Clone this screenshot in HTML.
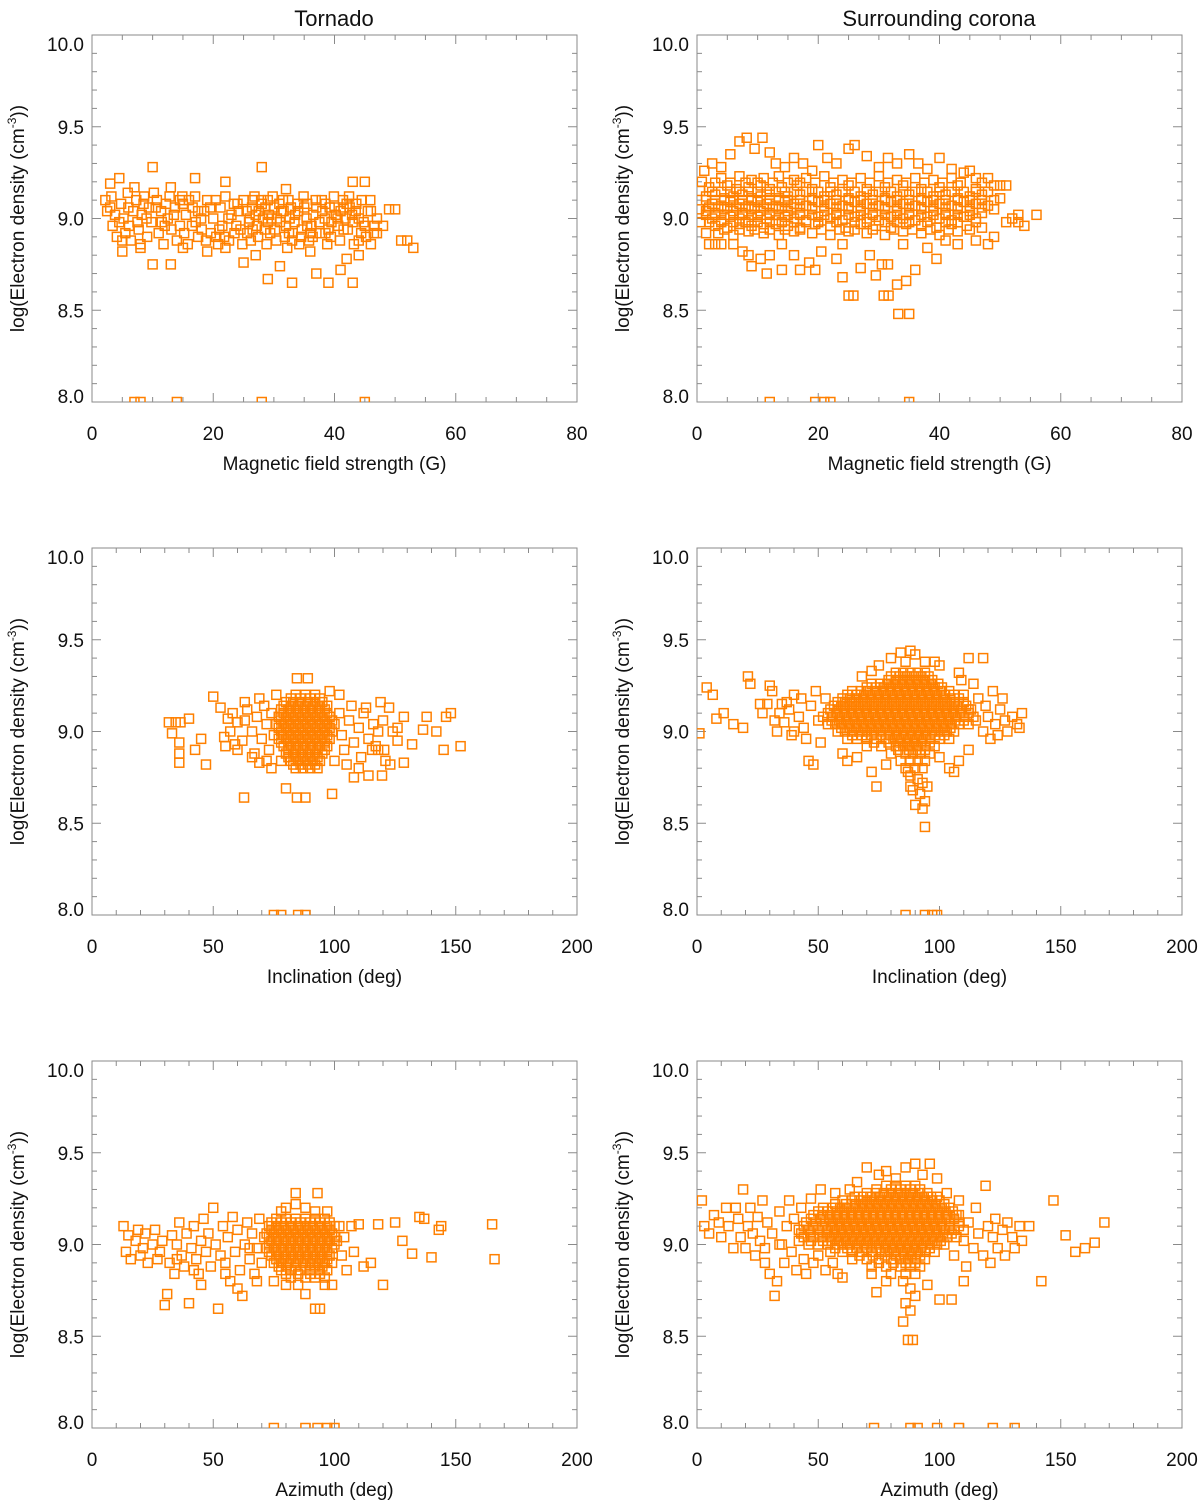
<!DOCTYPE html>
<html><head><meta charset="utf-8">
<style>
html,body{margin:0;padding:0;background:#fff;}
svg{display:block;font-family:"Liberation Sans",Arial,sans-serif;}
</style></head>
<body>
<svg id="fig" width="1200" height="1504" viewBox="0 0 1200 1504">
<text x="334" y="26" font-size="22" text-anchor="middle" fill="#111">Tornado</text>
<text x="939" y="26" font-size="22" text-anchor="middle" fill="#111">Surrounding corona</text>
</svg>
<script>
const yTicks=[8.0,8.5,9.0,9.5,10.0];
const yTickLabels=["8.0","8.5","9.0","9.5","10.0"];
const xTicksB=[0,20,40,60,80];
const xTicksA=[0,50,100,150,200];
const xTitles=["Magnetic field strength (G)","Inclination (deg)","Azimuth (deg)"];

const tornadoB=[[2.5,9.04],[2.2,9.1],[3.4,8.96],[3.8,9.02],[3.2,9.12],[4.1,8.9],[5.2,9.0],[4.8,9.08],[5.5,8.92],[5.9,9.14],[6.4,8.88],[6.8,9.04],[7.3,9.1],[6.1,8.96],[8.2,9.02],[7.7,8.94],[8.6,9.12],[8.0,8.86],[9.4,9.06],[9.8,8.98],[10.2,9.14],[9.1,8.9],[11.0,8.92],[11.4,9.04],[10.7,9.1],[11.8,8.86],[12.5,9.0],[12.2,9.08],[13.1,8.94],[12.8,9.12],[14.0,8.88],[14.5,8.96],[13.7,9.06],[14.9,9.12],[15.5,9.02],[15.2,8.92],[16.0,9.1],[15.8,8.86],[17.1,8.98],[16.6,9.06],[17.5,8.9],[17.0,9.12],[18.5,9.04],[18.1,8.94],[19.0,9.1],[18.8,8.88],[20.0,9.0],[20.4,9.1],[19.6,8.92],[20.8,8.86],[21.5,8.96],[21.2,9.06],[22.0,9.12],[21.8,8.9],[23.0,9.02],[22.6,8.88],[23.4,9.08],[23.8,8.96],[24.5,8.94],[24.2,9.04],[25.0,9.1],[24.8,8.86],[26.0,9.0],[25.6,8.92],[26.4,9.06],[25.9,8.98],[26.8,9.12],[26.2,8.88],[27.5,9.04],[27.2,8.96],[27.9,9.1],[27.4,8.9],[28.2,9.0],[29.0,8.98],[28.6,9.06],[29.4,8.92],[29.2,9.02],[28.8,8.86],[29.8,9.12],[30.5,9.0],[30.2,8.94],[30.9,9.08],[30.4,8.88],[31.2,9.04],[32.0,8.96],[31.6,9.04],[32.4,9.1],[31.8,8.9],[32.6,9.0],[32.2,8.84],[33.5,9.02],[33.1,8.92],[33.9,9.08],[33.4,8.98],[34.2,8.86],[35.0,9.06],[34.6,8.94],[35.4,9.0],[34.9,9.12],[35.8,8.88],[36.5,9.02],[36.2,8.96],[36.9,9.1],[36.4,8.9],[38.0,9.04],[37.6,8.92],[38.4,9.0],[37.9,9.1],[38.8,8.86],[39.5,8.98],[39.2,9.06],[39.9,9.12],[39.4,8.9],[40.2,9.02],[41.0,9.04],[40.6,8.96],[41.4,9.1],[40.9,8.88],[41.8,9.0],[42.5,9.06],[42.2,8.94],[42.9,9.02],[42.4,9.12],[43.2,8.86],[44.0,9.0],[43.6,9.08],[44.4,8.92],[44.8,8.98],[45.5,9.04],[45.2,8.9],[45.9,9.1],[47.0,9.0],[46.6,8.96],
[3,9.06],[4.5,8.98],[6,9.06],[7.5,8.98],[9,9.0],[10.5,9.06],[12,8.96],[13.5,9.02],[15,9.08],[16.5,8.96],[18,9.0],[19.5,9.06],[21,8.94],[22.5,9.0],[24,9.08],[25.5,9.04],[26.5,8.94],[27,9.02],[28,9.08],[28.5,8.94],[29.6,9.0],[30,9.06],[31,8.98],[31.5,9.1],[32.8,9.06],[33,8.88],[34,9.04],[34.5,8.9],[35.5,9.08],[36,8.92],[37,9.06],[37.5,8.98],[38.5,9.08],[39,8.94],[40,9.06],[40.5,9.0],[41.5,8.94],[42,9.08],[43,8.98],[43.5,9.04],[44.5,9.1],[45,8.96],[46,9.04],[46.5,8.92],[5,8.88],[8.5,9.08],[11.5,8.98],[14.5,9.1],[17.5,9.04],[20.5,8.9],[23.5,8.92],[26.5,9.1],[29,9.1],[32.5,8.92],[35.5,8.96],[38.5,8.92],[41.5,9.06],[44,8.88],
[10,9.28],[28,9.28],[4.5,9.22],[17,9.22],[3,9.19],[22,9.2],[7,9.17],[13,9.17],[32,9.16],[43,9.2],[45,9.2],[10,8.75],[13,8.75],[29,8.67],[33,8.65],[37,8.7],[39,8.65],[43,8.65],[41,8.72],[42,8.78],[31,8.74],[27,8.8],[25,8.76],[36,8.82],[19,8.82],[5,8.82],[8,8.84],[15,8.84],[22,8.84],[49,9.05],[50,9.05],[51,8.88],[52,8.88],[53,8.84],[47,8.92],[48,8.96],[46,8.86],[44,8.8],
[7,8.0],[8,8.0],[14,8.0],[28,8.0],[45,8.0]];

const coronaB=[[4,9.22],[7,9.23],[9,9.21],[11,9.22],[13.5,9.23],[16,9.21],[18,9.22],[21,9.23],[24,9.21],[27,9.22],[30,9.23],[33,9.21],[36,9.22],[39,9.21],[42,9.22],
[2,9.17],[5,9.18],[6.5,9.16],[8.5,9.17],[10.5,9.18],[12,9.16],[14,9.17],[16.5,9.18],[19,9.16],[22,9.17],[25,9.18],[28,9.16],[31,9.17],[34,9.18],[37,9.16],[40,9.17],[43,9.18],[46,9.16],[49,9.18],[51,9.18],
[1.5,9.12],[3,9.13],[4.5,9.11],[6,9.12],[7.5,9.13],[9,9.11],[10.5,9.12],[12,9.13],[13.5,9.11],[15,9.12],[17,9.13],[19,9.11],[21,9.12],[23,9.13],[25,9.11],[27,9.12],[29,9.13],[31,9.11],[33,9.12],[35,9.13],[37,9.11],[39,9.12],[41,9.13],[43,9.11],[45,9.12],[47,9.13],[50,9.11],
[2.5,9.08],[4,9.07],[5.5,9.09],[7,9.08],[8.5,9.07],[10,9.09],[11.5,9.08],[13,9.07],[14.5,9.09],[16,9.08],[18,9.07],[20,9.09],[22,9.08],[24,9.07],[26,9.09],[28,9.08],[30,9.07],[32,9.09],[34,9.08],[36,9.07],[38,9.09],[40,9.08],[42,9.07],[44,9.09],[46,9.08],[48,9.07],
[1.5,9.04],[3,9.03],[4.5,9.05],[6,9.04],[7.5,9.03],[9,9.05],[10.5,9.04],[12,9.03],[13.5,9.05],[15,9.04],[17,9.03],[19,9.05],[21,9.04],[23,9.03],[25,9.05],[27,9.04],[29,9.03],[31,9.05],[33,9.04],[35,9.03],[37,9.05],[39,9.04],[41,9.03],[43,9.05],[45,9.04],[47,9.03],[49,9.05],
[2.5,9.0],[4,8.99],[5.5,9.01],[7,9.0],[8.5,8.99],[10,9.01],[11.5,9.0],[13,8.99],[14.5,9.01],[16,9.0],[18,8.99],[20,9.01],[22,9.0],[24,8.99],[26,9.01],[28,9.0],[30,8.99],[32,9.01],[34,9.0],[36,8.99],[38,9.01],[40,9.0],[42,8.99],[44,9.01],[46,9.0],
[3,8.96],[5,8.95],[7,8.97],[9,8.96],[11,8.95],[13,8.97],[15,8.96],[17,8.95],[19.5,8.97],[22,8.96],[24.5,8.95],[27,8.97],[29.5,8.96],[32,8.95],[34.5,8.97],[37,8.96],[39.5,8.95],[42,8.97],[44.5,8.96],[47,8.95],
[3.5,8.92],[6,8.91],[8.5,8.93],[11,8.92],[13.5,8.91],[16,8.93],[19,8.92],[22,8.91],[25,8.93],[28,8.92],[31,8.91],[34,8.93],[37,8.92],[40,8.91],[43,8.93],
[0.5,9.15],[0.8,9.2],[1.2,9.26],[2.5,9.3],[4,9.28],[5.5,9.35],[7,9.42],[8.2,9.44],[9.5,9.38],[10.8,9.44],[12,9.36],[13,9.3],[14.5,9.28],[16,9.33],[17.5,9.3],[19,9.26],[20,9.4],[21.5,9.33],[23,9.3],[25,9.38],[26,9.4],[28,9.34],[30,9.28],[31.5,9.33],[33,9.3],[35,9.35],[36.5,9.3],[38,9.27],[40,9.33],[42,9.27],[44,9.25],[46,9.22],[48,9.22],[50,9.18],[45,9.26],
[0.3,9.05],[0.6,8.98],[1.5,8.92],[2,8.86],[3,8.86],[4,8.86],[6,8.86],[7.5,8.82],[8.5,8.8],[9,8.74],[10.5,8.78],[12,8.8],[11.5,8.7],[14,8.72],[16,8.8],[17,8.72],[18.5,8.76],[19.5,8.72],[20.5,8.82],[23,8.78],[24,8.68],[25,8.58],[25.8,8.58],[27,8.73],[28.5,8.8],[29.5,8.69],[30.5,8.75],[31.5,8.75],[30.8,8.58],[31.6,8.58],[33,8.64],[34.5,8.66],[33.2,8.48],[35,8.48],[36,8.72],[38,8.84],[39.5,8.78],[41,8.88],[43,8.86],[46,8.88],[48,8.86],[49,8.9],[51,8.98],[52,9.0],[53,8.98],[54,8.96],[56,9.02],[53,9.02],[14,8.86],[24,8.86],[34,8.86],
[12,8.0],[19.5,8.0],[21,8.0],[22,8.0],[35,8.0]];
// extra dense-core rows: [y, x1, x2, ...]
const coronaBRows=[[9.195,3,5.5,8,10,12.5,15,17,19.5,22.5,25.5,28.5,31.5,34.5,37.5,40.5,43.5,47],
[9.145,2.5,4,5.5,7,8.5,10,11.5,13,14.5,16,18,20,22,24,26,28,30,32,34,36,38,40,42,44,46,48],
[9.10,1.5,3,4.5,6,7.5,9,10.5,12,13.5,15,17,19,21,23,25,27,29,31,33,35,37,39,41,43,45,47,49],
[9.06,2,3.5,5,6.5,8,9.5,11,12.5,14,15.5,17,19,21,23,25,27,29,31,33,35,37,39,41,43,45,47],
[9.02,1.5,3,4.5,6,7.5,9,10.5,12,13.5,15,17,19,21,23,25,27,29,31,33,35,37,39,41,43,45],
[8.98,2,4,6,8,10,12,14,16,18,20,23,26,28,31,33,35,38,41,43,46],
[8.94,4.5,7,9.5,12,14.5,17,20.5,23.5,26,29,32.5,35.5,38.5,41.5,45]];

const tornadoI=[[84,9.2],[88,9.2],[92,9.2],
[80,9.16],[83,9.16],[86,9.16],[89,9.16],[92,9.16],[95,9.16],
[78,9.12],[81,9.12],[84,9.12],[87,9.12],[90,9.12],[93,9.12],[96,9.12],
[77,9.08],[80,9.08],[83,9.08],[86,9.08],[89,9.08],[92,9.08],[95,9.08],[98,9.08],
[76,9.04],[79,9.04],[82,9.04],[85,9.04],[88,9.04],[91,9.04],[94,9.04],[97,9.04],[100,9.04],
[78,9.0],[81,9.0],[84,9.0],[87,9.0],[90,9.0],[93,9.0],[96,9.0],[99,9.0],
[77,8.96],[80,8.96],[83,8.96],[86,8.96],[89,8.96],[92,8.96],[95,8.96],[98,8.96],
[79,8.92],[82,8.92],[85,8.92],[88,8.92],[91,8.92],[94,8.92],[97,8.92],
[80,8.88],[83,8.88],[86,8.88],[89,8.88],[92,8.88],[95,8.88],
[82,8.84],[85,8.84],[88,8.84],[91,8.84],[94,8.84],
[84,8.8],[87,8.8],[90,8.8],[93,8.8],
[58,9.1],[60,9.05],[62,8.95],[64,9.12],[66,9.0],[67,8.88],[68,9.08],[70,8.96],[71,9.14],[72,9.04],[73,8.9],[74,9.1],[75,8.98],[72,8.84],[66,8.86],[60,8.9],[57,9.0],[63,9.06],[69,9.18],[76,9.2],[78,8.84],[74,8.8],[102,9.1],[103,8.98],[104,8.9],[106,9.06],[107,9.14],[108,8.94],[110,9.02],[111,8.86],[112,9.1],[114,8.96],[116,9.04],[117,8.92],[118,9.0],[120,9.06],[121,8.84],[124,9.0],[126,9.02],[110,8.8],[100,8.84],[102,9.2],[98,9.22],[105,8.82],
[31.7,9.05],[33,8.99],[34.5,9.05],[36.5,9.05],[36,8.94],[36,8.88],[36,8.83],[40,9.07],[45,8.96],[42.5,8.9],[47,8.82],[50,9.19],[53,9.13],[56,9.07],[54.5,8.97],[55,8.92],[59,8.93],[62.7,8.64],[63,9.16],[69,8.83],[80,8.69],[84.5,8.64],[88,8.64],[84.5,9.29],[89,9.29],[99,8.66],[113,9.13],[119,9.16],[122.5,9.13],[128.6,9.08],[138,9.08],[146,9.08],[145,8.9],[136.5,9.01],[142,9.0],[128.6,8.83],[132,8.93],[123,8.82],[119.6,8.76],[114,8.76],[108,8.75],[115.5,8.9],[118,8.9],[120.5,8.9],[126,8.95],[152,8.92],[148,9.1],
[75,8.0],[78,8.0],[85,8.0],[88,8.0]];
const tornadoIRows=[[9.18,82,86,90,94],[9.14,79,82,85,88,91,94,97],[9.1,79,82,85,88,91,94,97],[9.06,78,81,84,87,90,93,96,99],[9.02,77,80,83,86,89,92,95,98],[8.98,79,82,85,88,91,94,97],[8.94,78,81,84,87,90,93,96],[8.9,81,84,87,90,93,96],[8.86,81,84,87,90,93],[8.82,83,86,89,92]];

const coronaI=[[82,9.32],[85,9.32],[88,9.32],[91,9.32],[94,9.32],
[79,9.28],[82,9.28],[85,9.28],[88,9.28],[91,9.28],[94,9.28],[97,9.28],
[70,9.24],[74,9.24],[77,9.24],[80,9.24],[83,9.24],[86,9.24],[89,9.24],[92,9.24],[95,9.24],[98,9.24],[101,9.24],
[62,9.2],[66,9.2],[69,9.2],[72,9.2],[75,9.2],[78,9.2],[81,9.2],[84,9.2],[87,9.2],[90,9.2],[93,9.2],[96,9.2],[99,9.2],[102,9.2],[106,9.2],
[58,9.16],[61,9.16],[64,9.16],[67,9.16],[70,9.16],[73,9.16],[76,9.16],[79,9.16],[82,9.16],[85,9.16],[88,9.16],[91,9.16],[94,9.16],[97,9.16],[100,9.16],[103,9.16],[106,9.16],[110,9.16],
[55,9.12],[58,9.12],[61,9.12],[64,9.12],[67,9.12],[70,9.12],[73,9.12],[76,9.12],[79,9.12],[82,9.12],[85,9.12],[88,9.12],[91,9.12],[94,9.12],[97,9.12],[100,9.12],[103,9.12],[106,9.12],[109,9.12],[112,9.12],
[52,9.08],[56,9.08],[59,9.08],[62,9.08],[65,9.08],[68,9.08],[71,9.08],[74,9.08],[77,9.08],[80,9.08],[83,9.08],[86,9.08],[89,9.08],[92,9.08],[95,9.08],[98,9.08],[101,9.08],[104,9.08],[107,9.08],[110,9.08],[114,9.08],
[54,9.04],[57,9.04],[60,9.04],[63,9.04],[66,9.04],[69,9.04],[72,9.04],[75,9.04],[78,9.04],[81,9.04],[84,9.04],[87,9.04],[90,9.04],[93,9.04],[96,9.04],[99,9.04],[102,9.04],[105,9.04],[108,9.04],[112,9.04],
[58,9.0],[61,9.0],[64,9.0],[67,9.0],[70,9.0],[73,9.0],[76,9.0],[79,9.0],[82,9.0],[85,9.0],[88,9.0],[91,9.0],[94,9.0],[97,9.0],[100,9.0],[103,9.0],[106,9.0],
[62,8.96],[66,8.96],[70,8.96],[74,8.96],[78,8.96],[81,8.96],[84,8.96],[87,8.96],[90,8.96],[93,8.96],[96,8.96],[100,8.96],[104,8.96],
[70,8.92],[76,8.92],[82,8.92],[85,8.92],[88,8.92],[91,8.92],[94,8.92],[98,8.92],
[80,8.88],[86,8.88],[89,8.88],[92,8.88],[96,8.88],
[84,8.84],[88,8.84],[91,8.84],[94,8.84],
[86,8.8],[90,8.8],[93,8.8],
[88,8.76],[91,8.74],[93,8.72],[89,8.68],[92,8.66],[94,8.62],[90,8.6],[93,8.58],[94,8.48],[88,8.7],[95,8.7],[87,8.78],
[80,9.4],[84,9.43],[88,9.44],[90,9.42],[94,9.38],[86,9.38],[98,9.38],[100,9.36],[108,9.32],[112,9.4],[75,9.36],[72,9.33],[68,9.3],
[1,8.99],[4,9.24],[6.5,9.2],[8,9.07],[11,9.1],[15,9.04],[19,9.02],[21,9.3],[22,9.26],[26,9.15],[27,9.1],[29,9.15],[30,9.25],[31,9.22],[32,9.06],[34,9.1],[35,9.15],[36,9.05],[38,9.12],[39,8.98],[40,9.2],[42,9.08],[43,9.18],[44,9.02],[45,8.96],[46,8.84],[48,8.82],[47,9.14],[49,9.22],[50,9.06],[51,8.94],[53,9.18],[40,9.0],[37,9.16],[33,9.0],
[60,8.88],[62,8.84],[66,8.86],[72,8.78],[74,8.7],[78,8.82],[100,8.86],[104,8.8],[106,8.78],[108,8.84],[112,8.9],
[110,9.2],[113,9.12],[115,9.06],[116,9.18],[118,9.0],[119,9.14],[120,9.08],[121,8.96],[122,9.22],[123,9.04],[124,8.98],[125,9.12],[126,9.18],[127,9.06],[128,9.0],[130,9.08],[132,9.04],[134,9.1],[133,9.02],[118,9.4],[114,9.26],[109,9.28],
[86,8.0],[94,8.0],[97,8.0],[99,8.0]];
const coronaIRows=[[9.30,80,83.5,86.5,89.5,92.5,95.5],[9.26,72,75.5,78.5,81.5,84.5,87.5,90.5,93.5,96.5,99.5],[9.22,64,67.5,70.5,73.5,76.5,79.5,82.5,85.5,88.5,91.5,94.5,97.5,100.5,104],[9.18,60,63,65.5,68.5,71.5,74.5,77.5,80.5,83.5,86.5,89.5,92.5,95.5,98.5,101.5,104.5,108],[9.14,56.5,59.5,62.5,65.5,68.5,71.5,74.5,77.5,80.5,83.5,86.5,89.5,92.5,95.5,98.5,101.5,104.5,107.5,111],[9.10,54,57.5,60.5,63.5,66.5,69.5,72.5,75.5,78.5,81.5,84.5,87.5,90.5,93.5,96.5,99.5,102.5,105.5,108.5,112],[9.06,55.5,58.5,61.5,64.5,67.5,70.5,73.5,76.5,79.5,82.5,85.5,88.5,91.5,94.5,97.5,100.5,103.5,106.5,110],[9.02,59.5,62.5,65.5,68.5,71.5,74.5,77.5,80.5,83.5,86.5,89.5,92.5,95.5,98.5,101.5,104.5],[8.98,64,68,72,76,79.5,82.5,85.5,88.5,91.5,94.5,98,102],[8.94,73,79,83.5,86.5,89.5,92.5,96],[8.9,83,87.5,90.5,94]];

const tornadoA=[[76,9.14],[80,9.14],[84,9.14],[88,9.14],[92,9.14],[96,9.14],
[73,9.1],[76,9.1],[79,9.1],[82,9.1],[85,9.1],[88,9.1],[91,9.1],[94,9.1],[97,9.1],[100,9.1],
[72,9.06],[75,9.06],[78,9.06],[81,9.06],[84,9.06],[87,9.06],[90,9.06],[93,9.06],[96,9.06],[99,9.06],
[74,9.02],[77,9.02],[80,9.02],[83,9.02],[86,9.02],[89,9.02],[92,9.02],[95,9.02],[98,9.02],[101,9.02],
[72,8.98],[75,8.98],[78,8.98],[81,8.98],[84,8.98],[87,8.98],[90,8.98],[93,8.98],[96,8.98],[99,8.98],
[74,8.94],[77,8.94],[80,8.94],[83,8.94],[86,8.94],[89,8.94],[92,8.94],[95,8.94],[98,8.94],
[75,8.9],[78,8.9],[81,8.9],[84,8.9],[87,8.9],[90,8.9],[93,8.9],[96,8.9],[99,8.9],
[78,8.86],[82,8.86],[86,8.86],[90,8.86],[94,8.86],[97,8.86],
[82,8.82],[88,8.82],[92,8.82],[96,8.82],
[80,9.2],[84,9.22],[88,9.2],[92,9.18],[84,9.28],[93,9.28],[78,9.18],[97,9.18],
[85,8.78],[88,8.73],[92,8.65],[94,8.65],[96,8.78],[99,8.78],[80,8.78],[75,8.8],
[13,9.1],[15,9.05],[14,8.96],[16,8.92],[18,9.02],[19,9.08],[21,8.98],[22,9.06],[23,8.9],[25,9.0],[26,9.08],[28,8.96],[29,9.02],[30,8.67],[31,8.73],[32,8.9],[33,9.05],[34,8.84],[35,9.0],[36,9.12],[37,8.94],[38,8.88],[39,9.06],[40,8.68],[41,8.98],[42,9.1],[43,8.92],[44,8.84],[45,9.02],[46,9.14],[47,8.96],[48,9.06],[49,8.88],[50,9.2],[51,9.0],[52,8.65],[53,8.94],[54,9.1],[55,8.9],[56,9.04],[57,8.8],[58,9.15],[59,8.96],[60,9.08],[61,8.86],[62,8.72],[63,9.0],[64,9.12],[65,8.92],[66,9.06],[67,8.84],[68,8.98],[69,9.14],[70,8.9],[71,9.04],[45,8.78],[55,8.84],[60,8.76],[20,8.94],[27,8.92],[35,8.92],[65,8.98],[68,8.8],[42,8.86],
[102,9.1],[103,8.94],[104,9.04],[105,8.86],[107,9.1],[108,8.96],[110,9.11],[112,8.88],[115,8.9],[118,9.11],[120,8.78],[125,9.12],[128,9.02],[132,8.95],[135,9.15],[137,9.14],[140,8.93],[143,9.08],[144,9.1],[165,9.11],[166,8.92],
[75,8.0],[88,8.0],[93,8.0],[97,8.0],[100,8.0]];
const tornadoARows=[[9.12,74,78,82,86,90,94,98],[9.08,74,77,80,83,86,89,92,95,98],[9.04,73,76,79,82,85,88,91,94,97,100],[9.0,73,76,79,82,85,88,91,94,97,100],[8.96,73,76,79,82,85,88,91,94,97],[8.92,76,79,82,85,88,91,94,97],[8.88,77,80,84,88,92,95],[8.84,80,85,90,94]];

const coronaA=[[78,9.32],[82,9.32],[86,9.32],[90,9.32],
[70,9.28],[74,9.28],[77,9.28],[80,9.28],[83,9.28],[86,9.28],[89,9.28],[92,9.28],[95,9.28],
[60,9.24],[64,9.24],[67,9.24],[70,9.24],[73,9.24],[76,9.24],[79,9.24],[82,9.24],[85,9.24],[88,9.24],[91,9.24],[94,9.24],[97,9.24],[100,9.24],
[52,9.2],[56,9.2],[59,9.2],[62,9.2],[65,9.2],[68,9.2],[71,9.2],[74,9.2],[77,9.2],[80,9.2],[83,9.2],[86,9.2],[89,9.2],[92,9.2],[95,9.2],[98,9.2],[101,9.2],[104,9.2],
[48,9.16],[52,9.16],[55,9.16],[58,9.16],[61,9.16],[64,9.16],[67,9.16],[70,9.16],[73,9.16],[76,9.16],[79,9.16],[82,9.16],[85,9.16],[88,9.16],[91,9.16],[94,9.16],[97,9.16],[100,9.16],[103,9.16],[107,9.16],
[45,9.12],[49,9.12],[53,9.12],[56,9.12],[59,9.12],[62,9.12],[65,9.12],[68,9.12],[71,9.12],[74,9.12],[77,9.12],[80,9.12],[83,9.12],[86,9.12],[89,9.12],[92,9.12],[95,9.12],[98,9.12],[101,9.12],[104,9.12],[108,9.12],
[42,9.08],[46,9.08],[50,9.08],[54,9.08],[57,9.08],[60,9.08],[63,9.08],[66,9.08],[69,9.08],[72,9.08],[75,9.08],[78,9.08],[81,9.08],[84,9.08],[87,9.08],[90,9.08],[93,9.08],[96,9.08],[99,9.08],[102,9.08],[106,9.08],[110,9.08],
[44,9.04],[48,9.04],[52,9.04],[55,9.04],[58,9.04],[61,9.04],[64,9.04],[67,9.04],[70,9.04],[73,9.04],[76,9.04],[79,9.04],[82,9.04],[85,9.04],[88,9.04],[91,9.04],[94,9.04],[97,9.04],[100,9.04],[103,9.04],[107,9.04],
[50,9.0],[54,9.0],[57,9.0],[60,9.0],[63,9.0],[66,9.0],[69,9.0],[72,9.0],[75,9.0],[78,9.0],[81,9.0],[84,9.0],[87,9.0],[90,9.0],[93,9.0],[96,9.0],[99,9.0],[102,9.0],
[55,8.96],[60,8.96],[64,8.96],[68,8.96],[72,8.96],[76,8.96],[79,8.96],[82,8.96],[85,8.96],[88,8.96],[91,8.96],[94,8.96],[98,8.96],
[64,8.92],[70,8.92],[75,8.92],[80,8.92],[84,8.92],[87,8.92],[90,8.92],[94,8.92],
[72,8.88],[78,8.88],[84,8.88],[88,8.88],[92,8.88],
[80,8.84],[86,8.84],[90,8.84],
[85,8.8],[88,8.76],[90,8.72],[86,8.68],[88,8.64],[85,8.58],[87,8.48],[89,8.48],[78,8.8],[95,8.78],[100,8.7],[74,8.74],[72,8.84],
[70,9.42],[75,9.38],[78,9.4],[82,9.36],[86,9.42],[90,9.44],[93,9.38],[96,9.44],[99,9.36],[103,9.28],[66,9.34],[63,9.3],[108,9.24],[57,9.28],
[2,9.24],[3,9.1],[5,9.06],[7,9.16],[9,9.12],[10,9.04],[12,9.2],[13,9.1],[15,8.98],[17,9.14],[18,9.04],[19,9.3],[20,8.98],[21,9.1],[22,9.2],[23,9.06],[24,8.94],[25,9.15],[26,9.02],[27,9.24],[28,8.9],[29,9.12],[30,8.84],[31,9.06],[32,8.72],[33,8.8],[34,9.18],[35,9.0],[36,8.9],[37,9.1],[38,9.24],[39,8.96],[40,9.14],[41,8.86],[42,9.02],[43,9.2],[44,8.92],[45,8.84],[47,9.25],[48,8.9],[50,8.94],[51,9.3],[53,8.86],[56,8.9],[58,8.84],[60,8.82],[28,8.98],[16,9.2],[34,9.0],[46,9.0],
[104,9.08],[106,8.94],[108,9.16],[110,9.02],[111,8.88],[112,9.12],[114,8.98],[115,9.2],[116,9.06],[118,8.94],[119,9.32],[120,9.1],[121,8.9],[122,9.04],[123,9.14],[124,8.98],[126,9.08],[127,8.94],[128,9.12],[130,9.04],[131,8.98],[133,9.1],[134,9.02],[137,9.1],[142,8.8],[147,9.24],[152,9.05],[156,8.96],[160,8.98],[164,9.01],[168,9.12],[105,8.7],[110,8.8],
[73,8.0],[88,8.0],[91,8.0],[99,8.0],[108,8.0],[122,8.0],[131,8.0]];
const coronaARows=[[9.30,74,80,84,88,92],[9.26,65,68.5,71.5,75.5,78.5,81.5,84.5,87.5,90.5,93.5,96.5,99],[9.22,57,61.5,65.5,68.5,71.5,74.5,77.5,80.5,83.5,86.5,89.5,92.5,95.5,98.5,102],[9.18,50,54,57.5,60.5,63.5,66.5,69.5,72.5,75.5,78.5,81.5,84.5,87.5,90.5,93.5,96.5,99.5,102.5,105.5],[9.14,47,51,54.5,57.5,60.5,63.5,66.5,69.5,72.5,75.5,78.5,81.5,84.5,87.5,90.5,93.5,96.5,99.5,102.5,106],[9.10,44,48,51.5,55.5,58.5,61.5,64.5,67.5,70.5,73.5,76.5,79.5,82.5,85.5,88.5,91.5,94.5,97.5,100.5,104,108],[9.06,43,47,50.5,53.5,56.5,59.5,62.5,65.5,68.5,71.5,74.5,77.5,80.5,83.5,86.5,89.5,92.5,95.5,98.5,101.5,105],[9.02,47,52,55.5,58.5,61.5,64.5,67.5,70.5,73.5,76.5,79.5,82.5,85.5,88.5,91.5,94.5,97.5,100.5],[8.98,57,62,66,70,74,77.5,80.5,83.5,86.5,89.5,92.5,96],[8.94,67,72.5,77.5,82,85.5,88.5,92],[8.9,75,81,86,90]];

function rowsToPoints(rows){const out=[];rows.forEach(r=>{for(let k=1;k<r.length;k++)out.push([r[k],r[0]]);});return out;}

const NS="http://www.w3.org/2000/svg";
const svg=document.getElementById('fig');
function mk(tag,attrs,parent){const e=document.createElementNS(NS,tag);for(const k in attrs)e.setAttribute(k,attrs[k]);(parent||svg).appendChild(e);return e;}

const panels=[
 {key:'tornado-field',data:tornadoB,rows:[],col:0,row:0,xmax:80,ticks:xTicksB,minor:5},
 {key:'corona-field',data:coronaB,rows:coronaBRows,col:1,row:0,xmax:80,ticks:xTicksB,minor:5},
 {key:'tornado-inclination',data:tornadoI,rows:tornadoIRows,col:0,row:1,xmax:200,ticks:xTicksA,minor:10},
 {key:'corona-inclination',data:coronaI,rows:coronaIRows,col:1,row:1,xmax:200,ticks:xTicksA,minor:10},
 {key:'tornado-azimuth',data:tornadoA,rows:tornadoARows,col:0,row:2,xmax:200,ticks:xTicksA,minor:10},
 {key:'corona-azimuth',data:coronaA,rows:coronaARows,col:1,row:2,xmax:200,ticks:xTicksA,minor:10}
];
const colX=[92,697], W=485, rowY=[35,548,1061], H=367;
panels.forEach((p,i)=>{
  const x0=colX[p.col], y0=rowY[p.row];
  const sx=v=>x0+v/p.xmax*W;
  const sy=v=>y0+H-(v-8)/2*H;
  const g=mk('g',{});
  
  
  const cp=mk('clipPath',{id:'clip'+i},g);
  mk('rect',{x:x0,y:y0,width:W,height:H},cp);
  const tg=mk('g',{stroke:'#8a8a8a','stroke-width':1},g);
  
  
  for(let v=8;v<=10.001;v+=0.1){
    const y=sy(v), major=Math.abs(v*2-Math.round(v*2))<1e-6;
    const L=major?9:5;
    mk('line',{x1:x0,x2:x0+L,y1:y,y2:y},tg);
    mk('line',{x1:x0+W,x2:x0+W-L,y1:y,y2:y},tg);
  }
  for(let v=0;v<=p.xmax+1e-6;v+=p.minor){
    const x=sx(v), major=p.ticks.some(t=>Math.abs(t-v)<1e-6);
    const L=major?9:5;
    mk('line',{x1:x,x2:x,y1:y0+H,y2:y0+H-L},tg);
    mk('line',{x1:x,x2:x,y1:y0,y2:y0+L},tg);
  }
  const frame=mk('rect',{x:x0,y:y0,width:W,height:H,fill:'none',stroke:'#8a8a8a','stroke-width':1},g);
  
  
  yTicks.forEach((v,j)=>{
    let yy=sy(v)+7;
    if(j===yTicks.length-1) yy+=9;
    if(j===0) yy-=6;
    const t=mk('text',{x:x0-8,y:yy,'font-size':19,'text-anchor':'end',fill:'#111'},g);
    t.textContent=yTickLabels[j];
    
    
  });
  p.ticks.forEach(v=>{
    const t=mk('text',{x:sx(v),y:y0+H+38,'font-size':19,'text-anchor':'middle',fill:'#111'},g);
    t.textContent=String(v);
    
    
  });
  const xt=mk('text',{x:x0+W/2,y:y0+H+68,'font-size':19,'text-anchor':'middle',fill:'#111'},g);
  xt.textContent=xTitles[p.row];
  
  
  const cx=x0-68, cy=y0+H/2;
  const yt=mk('text',{x:cx,y:cy,'font-size':19,'text-anchor':'middle',fill:'#111',transform:`rotate(-90 ${cx} ${cy})`},g);
  
  
  yt.appendChild(document.createTextNode('log(Electron density (cm'));
  const sup=mk('tspan',{'font-size':12,dy:-8},yt);sup.textContent='-3';
  const rest=mk('tspan',{dy:8},yt);rest.textContent='))';
  const pg=mk('g',{'clip-path':`url(#clip${i})`,fill:'none',stroke:'#ff8000','stroke-width':1.5},g);
  
  
  p.data.concat(rowsToPoints(p.rows)).forEach(d=>{
    const r=mk('rect',{x:sx(d[0])-4.5,y:sy(d[1])-4.5,width:9,height:9},pg);
    
    
  });
});
</script>
</body></html>
